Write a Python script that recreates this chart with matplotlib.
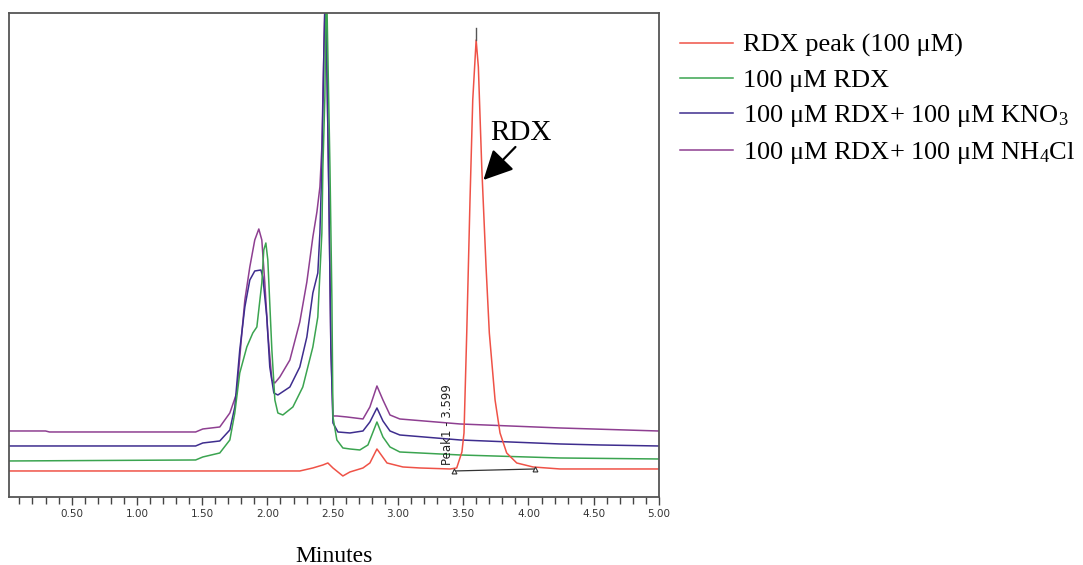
import matplotlib
matplotlib.use("Agg")
import matplotlib.pyplot as plt
from matplotlib.ticker import MultipleLocator, FormatStrFormatter

plt.rcParams['font.family'] = ['Liberation Serif', 'DejaVu Serif']
plt.rcParams['mathtext.fontset'] = 'custom'
plt.rcParams['mathtext.rm'] = 'Liberation Serif'
plt.rcParams['mathtext.it'] = 'Liberation Serif:italic'

# detector signal (arbitrary units) vs retention time (minutes)
t_nh4 = [0.02, 0.30, 0.33, 1.45, 1.505, 1.635, 1.712, 1.765, 1.804, 1.827, 1.865,
         1.903, 1.934, 1.957, 1.980, 2.003, 2.034, 2.057, 2.095, 2.172, 2.248,
         2.302, 2.348, 2.379, 2.402, 2.417, 2.425, 2.445, 2.471, 2.486, 2.502,
         2.532, 2.609, 2.732, 2.785, 2.839, 2.885, 2.939, 3.014, 3.476, 4.242, 4.994]
s_nh4 = [66, 66, 65, 65, 68, 70, 84, 104, 164, 197, 230,
         257, 268, 257, 214, 164, 117, 114, 120, 137, 175,
         215, 260, 285, 310, 350, 400, 520, 300, 150, 81,
         81, 80, 78, 90, 111, 97, 82, 78, 73, 69, 66]

t_kno3 = [0.02, 1.45, 1.505, 1.635, 1.712, 1.750, 1.788, 1.827, 1.865, 1.903,
          1.950, 1.965, 1.995, 2.018, 2.049, 2.080, 2.172, 2.248, 2.302, 2.348,
          2.386, 2.402, 2.417, 2.433, 2.445, 2.471, 2.486, 2.502, 2.540, 2.632,
          2.732, 2.785, 2.839, 2.885, 2.939, 3.014, 3.476, 4.242, 4.549, 4.994]
s_kno3 = [51, 51, 54, 56, 67, 90, 147, 190, 217, 226,
          227, 220, 180, 130, 104, 102, 110, 130, 160, 204,
          224, 264, 330, 450, 520, 300, 150, 74, 65, 64,
          66, 75, 89, 76, 66, 62, 57, 53, 52, 51]

t_rdx = [0.02, 1.45, 1.505, 1.635, 1.712, 1.750, 1.788, 1.842, 1.888, 1.919,
         1.957, 1.972, 1.988, 2.003, 2.034, 2.057, 2.080, 2.118, 2.195, 2.271,
         2.348, 2.386, 2.417, 2.425, 2.440, 2.452, 2.479, 2.494, 2.502, 2.532,
         2.578, 2.632, 2.708, 2.770, 2.839, 2.885, 2.939, 3.014, 3.476, 4.242, 4.994]
s_rdx = [36, 37, 40, 44, 57, 84, 124, 150, 164, 170,
         214, 247, 254, 237, 147, 97, 84, 82, 90, 110,
         150, 180, 264, 330, 400, 520, 330, 197, 80, 57,
         49, 48, 47, 52, 75, 60, 50, 45, 42, 39, 38]

t_std = [0.02, 2.248, 2.348, 2.425, 2.463, 2.502, 2.578, 2.632, 2.732, 2.785,
         2.839, 2.916, 3.038, 3.169, 3.40, 3.45, 3.49, 3.506, 3.527, 3.552,
         3.573, 3.599, 3.616, 3.642, 3.675, 3.700, 3.744, 3.782, 3.833, 3.910,
         4.035, 4.242, 4.994]
s_std = [26, 26, 29, 32, 34, 29, 21, 25, 29, 34,
         48, 34, 30, 29, 28, 29, 45, 64, 164, 297,
         397, 457, 430, 330, 230, 164, 97, 64, 44, 34,
         30, 28, 28]

peak_rt = 3.599
base_t = [3.43, 4.05]
base_s = [26, 28]

labels = ['RDX peak (100 μM)', '100 μM RDX',
          '100 μM RDX+ 100 μM KNO$_3$', '100 μM RDX+ 100 μM NH$_4$Cl']
colors = ['#ef5247', '#3ba450', '#3e2d8e', '#8e3f91']

fig = plt.figure(figsize=(10.83, 5.65), dpi=100)
ax = fig.add_axes([0.0083, 0.1204, 0.6002, 0.8566])

l4, = ax.plot(t_nh4, s_nh4, color=colors[3], lw=1.1)
l3, = ax.plot(t_kno3, s_kno3, color=colors[2], lw=1.1)
l2, = ax.plot(t_rdx, s_rdx, color=colors[1], lw=1.1)
l1, = ax.plot(t_std, s_std, color=colors[0], lw=1.1)

# integration baseline and peak marker
ax.plot(base_t, base_s, color='#333333', lw=0.9)
ax.plot(base_t, base_s, ls='none', marker='^', ms=3.5, mfc='white',
        mec='#333333', mew=0.8)
ax.plot([peak_rt, peak_rt], [457, 469], color='#555555', lw=1)
ax.text(3.381, 32, 'Peak1 - 3.599', rotation=90, ha='center', va='bottom',
        fontsize=8.5, family='DejaVu Sans', color='#222222')

ax.text(3.944, 364, 'RDX', ha='center', va='center', fontsize=21)
ax.annotate('', xy=(3.655, 317), xytext=(3.90, 350),
            arrowprops=dict(arrowstyle='-|>,head_length=0.9,head_width=0.45',
                            color='black', lw=1.6, mutation_scale=20,
                            shrinkA=0, shrinkB=0))

ax.set_xlim(0.02, 5.0)
ax.set_ylim(0, 484)
ax.set_yticks([])
ax.xaxis.set_major_locator(MultipleLocator(0.5))
ax.xaxis.set_minor_locator(MultipleLocator(0.1))
ax.xaxis.set_major_formatter(FormatStrFormatter('%.2f'))
ax.tick_params(axis='x', which='major', direction='out', length=6, width=1,
               color='#444444', pad=3, labelsize=7.5, labelcolor='#333333')
ax.tick_params(axis='x', which='minor', direction='out', length=5, width=1,
               color='#444444')
for lab in ax.get_xticklabels():
    lab.set_family('DejaVu Sans')
for sp in ax.spines.values():
    sp.set_color('#555555')
    sp.set_linewidth(1.3)

ax.set_xlabel('Minutes', fontsize=17, labelpad=19)

fig.legend([l1, l2, l3, l4], labels, loc='upper left',
           bbox_to_anchor=(0.628, 0.941), frameon=False, fontsize=19,
           handlelength=2.0, handletextpad=0.4, labelspacing=0.42,
           borderaxespad=0, borderpad=0)

fig.savefig('out.png', dpi=100)
